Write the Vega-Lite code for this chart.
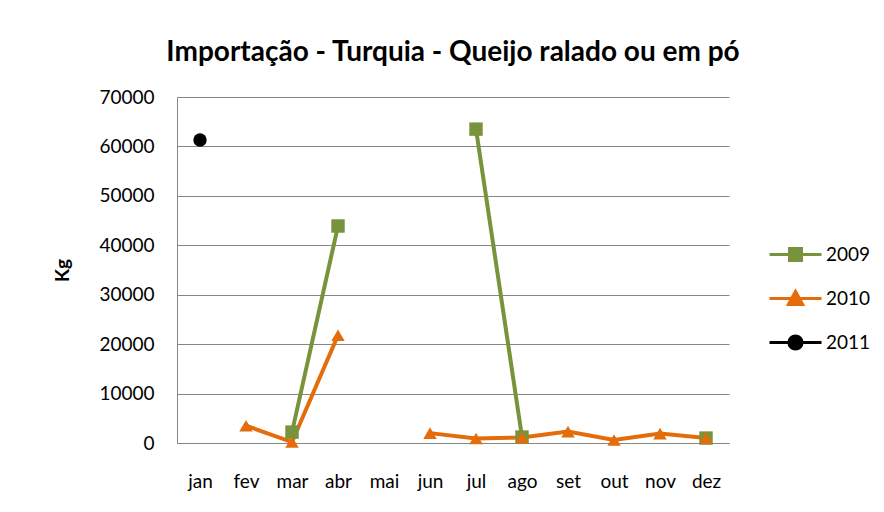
{
  "$schema": "https://vega.github.io/schema/vega-lite/v6.json",
  "width": 552,
  "height": 346,
  "autosize": {"type": "none"},
  "padding": {"left": 177, "top": 97, "right": 155, "bottom": 69},
  "background": "white",
  "config": {"font": "Lato", "view": {"stroke": null}},
  "title": {"text": "Importação - Turquia - Queijo ralado ou em pó", "fontSize": 28, "fontWeight": "bold", "color": "#000000", "offset": 21, "anchor": "middle"},
  "data": {
    "values": [
      {"month": "jan", "series": "2009", "kg": null},
      {"month": "fev", "series": "2009", "kg": null},
      {"month": "mar", "series": "2009", "kg": 2200},
      {"month": "abr", "series": "2009", "kg": 43900},
      {"month": "mai", "series": "2009", "kg": null},
      {"month": "jun", "series": "2009", "kg": null},
      {"month": "jul", "series": "2009", "kg": 63500},
      {"month": "ago", "series": "2009", "kg": 1200},
      {"month": "set", "series": "2009", "kg": null},
      {"month": "out", "series": "2009", "kg": null},
      {"month": "nov", "series": "2009", "kg": null},
      {"month": "dez", "series": "2009", "kg": 1000},
      {"month": "jan", "series": "2010", "kg": null},
      {"month": "fev", "series": "2010", "kg": 3500},
      {"month": "mar", "series": "2010", "kg": 200},
      {"month": "abr", "series": "2010", "kg": 21800},
      {"month": "mai", "series": "2010", "kg": null},
      {"month": "jun", "series": "2010", "kg": 2000},
      {"month": "jul", "series": "2010", "kg": 900},
      {"month": "ago", "series": "2010", "kg": 1100},
      {"month": "set", "series": "2010", "kg": 2300},
      {"month": "out", "series": "2010", "kg": 600},
      {"month": "nov", "series": "2010", "kg": 1900},
      {"month": "dez", "series": "2010", "kg": 1000},
      {"month": "jan", "series": "2011", "kg": 61300}
    ]
  },
  "encoding": {
    "x": {
      "field": "month", "type": "ordinal",
      "sort": ["jan","fev","mar","abr","mai","jun","jul","ago","set","out","nov","dez"],
      "scale": {"type": "point", "padding": 0.5},
      "axis": {"title": null, "labelAngle": 0, "ticks": false, "labelPadding": 29, "labelFontSize": 19, "labelColor": "#000000", "domainColor": "#868686", "domainWidth": 1, "grid": false}
    },
    "y": {
      "field": "kg", "type": "quantitative",
      "scale": {"domain": [0, 70000], "nice": false},
      "axis": {"values": [0,10000,20000,30000,40000,50000,60000,70000], "format": "d", "title": "Kg", "titleFontSize": 19, "titleFontWeight": "bold", "titleColor": "#000000", "titlePadding": 26, "ticks": false, "labelPadding": 23, "labelFontSize": 19, "labelColor": "#000000", "domainColor": "#868686", "gridColor": "#868686", "gridWidth": 1}
    }
  },
  "layer": [
    {
      "mark": {"type": "line", "strokeWidth": 4, "invalid": "break-paths-show-domains"},
      "encoding": {
        "detail": {"field": "series"},
        "color": {
          "field": "series", "type": "nominal",
          "scale": {"domain": ["2009","2010","2011"], "range": ["#77933C","#E46C0A","#000000"]},
          "legend": {
            "title": null, "orient": "none", "legendX": 597, "legendY": 136,
            "symbolSize": 1600, "labelFontSize": 19, "labelColor": "#000000", "labelOffset": 9, "rowPadding": 10, "padding": 0,
            "encode": {
              "symbols": {
                "update": {
                  "shape": {"signal": "datum.value == '2009' ? 'M-1.3,0H1.3M-0.3,-0.3H0.3V0.3H-0.3Z' : datum.value == '2010' ? 'M-1.3,0H1.3M0,-0.36L0.36,0.3H-0.36Z' : 'M-1.3,0H1.3M0.33,0A0.33,0.33 0 1,1 -0.33,0A0.33,0.33 0 1,1 0.33,0Z'"},
                  "fill": {"signal": "scale('color', datum.value)"},
                  "stroke": {"signal": "scale('color', datum.value)"},
                  "strokeWidth": {"value": 3},
                  "opacity": {"value": 1},
                  "fillOpacity": {"value": 1},
                  "size": {"value": 1600}
                }
              }
            }
          }
        }
      }
    },
    {
      "transform": [{"filter": "datum.series == '2009'"}],
      "mark": {"type": "point", "filled": true, "opacity": 1, "size": 180, "shape": "square"},
      "encoding": {
        "color": {"field": "series", "type": "nominal", "legend": null}
      }
    },
    {
      "transform": [{"filter": "datum.series == '2010'"}],
      "mark": {"type": "point", "filled": true, "opacity": 1, "size": 180, "shape": "triangle-up"},
      "encoding": {
        "color": {"field": "series", "type": "nominal", "legend": null}
      }
    },
    {
      "transform": [{"filter": "datum.series == '2011'"}],
      "mark": {"type": "point", "filled": true, "opacity": 1, "size": 180, "shape": "circle"},
      "encoding": {
        "color": {"field": "series", "type": "nominal", "legend": null}
      }
    }
  ]
}
